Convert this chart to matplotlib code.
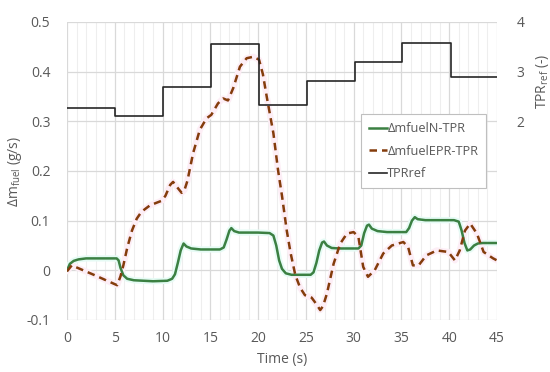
import matplotlib
matplotlib.use("Agg")
import matplotlib.pyplot as plt
from matplotlib.ticker import MultipleLocator

plt.rcParams['font.family'] = ['Open Sans', 'DejaVu Sans']
plt.rcParams['mathtext.default'] = 'regular'

# ---- data ----
t_n = [0, 0.3, 0.7, 1.2, 2, 5.2, 5.4, 5.6, 5.9, 6.3, 7, 9, 10.5, 11.0, 11.3, 11.6, 11.9, 12.2, 12.5, 13,
       14, 16.0, 16.4, 16.7, 17.0, 17.2, 17.5, 18, 20, 21.2, 21.6, 21.9, 22.2, 22.5, 22.9, 23.5, 25.5,
       25.8, 26.1, 26.4, 26.7, 26.9, 27.2, 27.7, 28.5, 30.5, 30.8, 31.1, 31.4, 31.6, 31.9, 32.5, 33.5,
       35.5, 35.8, 36.1, 36.4, 36.7, 37.5, 40.5, 41.0, 41.3, 41.6, 41.9, 42.2, 42.6, 43.0, 43.5, 45]
v_n = [0, 0.013, 0.019, 0.022, 0.024, 0.024, 0.020, 0.005, -0.010, -0.017, -0.020, -0.022, -0.021,
       -0.017, -0.008, 0.015, 0.040, 0.054, 0.048, 0.044, 0.042, 0.042, 0.046, 0.062, 0.080, 0.085,
       0.079, 0.076, 0.076, 0.075, 0.070, 0.050, 0.020, 0.003, -0.006, -0.009, -0.009, -0.004, 0.015,
       0.040, 0.056, 0.058, 0.050, 0.045, 0.044, 0.044, 0.050, 0.075, 0.090, 0.092, 0.084, 0.079,
       0.077, 0.077, 0.085, 0.100, 0.107, 0.103, 0.101, 0.101, 0.098, 0.080, 0.055, 0.040, 0.042,
       0.050, 0.054, 0.055, 0.055]

t_epr = [0, 0.5, 2.8, 5.25, 5.6, 5.9, 6.3, 6.8, 7.3, 7.8, 8.7, 9.9, 10.3, 10.8, 11.1, 11.5, 12.0, 12.3,
         12.6, 13.2, 13.9, 14.6, 15.1, 15.8, 16.35, 16.85, 17.4, 18.1, 18.8, 19.5, 20.1, 20.5, 20.9,
         21.6, 22.1, 22.5, 23.0, 23.4, 23.9, 24.4, 24.9, 25.6, 26.1, 26.5, 26.8, 27.2, 27.9, 28.6,
         29.3, 30.0, 30.5, 31.0, 31.5, 32.2, 33.1, 34.0, 35.2, 35.7, 36.2, 36.8, 37.6, 38.7, 39.9,
         40.6, 41.1, 41.65, 42.2, 42.9, 43.6, 44.6, 45]
v_epr = [-0.002, 0.010, -0.009, -0.030, -0.012, 0.010, 0.045, 0.080, 0.104, 0.118, 0.131, 0.140,
         0.150, 0.172, 0.178, 0.168, 0.156, 0.162, 0.180, 0.236, 0.283, 0.306, 0.313, 0.336, 0.346,
         0.342, 0.367, 0.410, 0.427, 0.430, 0.424, 0.395, 0.350, 0.276, 0.200, 0.150, 0.080, 0.035,
         -0.010, -0.035, -0.050, -0.055, -0.068, -0.080, -0.072, -0.047, 0.013, 0.054, 0.074, 0.077,
         0.067, 0.007, -0.013, 0.000, 0.034, 0.050, 0.057, 0.047, 0.010, 0.010, 0.030, 0.040, 0.037,
         0.020, 0.040, 0.080, 0.094, 0.074, 0.037, 0.024, 0.020]

t_ref = [0, 5, 10.1, 15.1, 20.1, 25.1, 30.1, 35.1, 40.2, 45]
v_ref = [2.26, 2.11, 2.70, 3.56, 2.33, 2.81, 3.20, 3.58, 2.89, 2.89]

x_ticks = [0, 5, 10, 15, 20, 25, 30, 35, 40, 45]
y_ticks = [-0.1, 0, 0.1, 0.2, 0.3, 0.4, 0.5]
y_tick_labels = ['-0.1', '0', '0.1', '0.2', '0.3', '0.4', '0.5']
y2_ticks = [2, 3, 4]

green = '#3b8042'
brown = '#843c0c'
txt = '#595959'

fig = plt.figure(figsize=(5.5, 3.72), dpi=100)
ax = fig.add_axes([0.1218, 0.1398, 0.7818, 0.8011])
ax2 = ax.twinx()

# faint glow beneath lines
ax.plot(t_n, v_n, color='#e6fbf5', lw=4.5, solid_capstyle='round', zorder=2)
ax.plot(t_epr, v_epr, color='#fdeef6', lw=4.5, solid_capstyle='round', zorder=2)

l1, = ax.plot(t_n, v_n, color=green, lw=1.8, zorder=3, label='ΔmfuelN-TPR')
l2, = ax.plot(t_epr, v_epr, color=brown, lw=1.8, ls=(0, (3, 2)), zorder=4, label='ΔmfuelEPR-TPR')
l3, = ax2.step(t_ref, v_ref, where='post', color='#262626', lw=1.2, label='TPRref')

ax.set_xlim(0, 45)
ax.set_ylim(-0.1, 0.5)
ax2.set_ylim(-2, 4)
ax.set_xticks(x_ticks)
ax.set_xticklabels([str(v) for v in x_ticks])
ax.set_yticks(y_ticks)
ax.set_yticklabels(y_tick_labels)
ax2.set_yticks(y2_ticks)
ax2.set_yticklabels([str(v) for v in y2_ticks])
ax.xaxis.set_minor_locator(MultipleLocator(1))

ax.grid(True, which='major', color='#d9d9d9', lw=0.9, zorder=0)
ax.grid(True, which='minor', axis='x', color='#eeeeee', lw=0.8, zorder=0)
ax.set_axisbelow(True)

for a in (ax, ax2):
    for s in a.spines.values():
        s.set_visible(False)
    a.tick_params(length=0, labelsize=10, colors=txt, which='both')
ax.tick_params(axis='y', pad=12)
ax.tick_params(axis='x', pad=8)
ax2.tick_params(axis='y', pad=14)

ax.set_xlabel('Time (s)', fontsize=10, color=txt, labelpad=4)
ax.set_ylabel('Δm$_{fuel}$ (g/s)', fontsize=10, color=txt, labelpad=2)
ax2.set_ylabel('TPR$_{ref}$ (-)', fontsize=10, color=txt, labelpad=4)
ax2.yaxis.set_label_coords(1.085, 0.8)

leg = ax.legend(handles=[l1, l2, l3], loc='upper left', bbox_to_anchor=(0.684, 0.69),
                frameon=True, fancybox=False, framealpha=1, edgecolor='#bfbfbf',
                fontsize=9.2, handlelength=1.4, handletextpad=0.05, labelspacing=0.75,
                borderpad=0.6, borderaxespad=0, labelcolor=txt)
leg.get_frame().set_linewidth(0.8)
leg.set_zorder(10)

fig.savefig('out.png', dpi=100)
